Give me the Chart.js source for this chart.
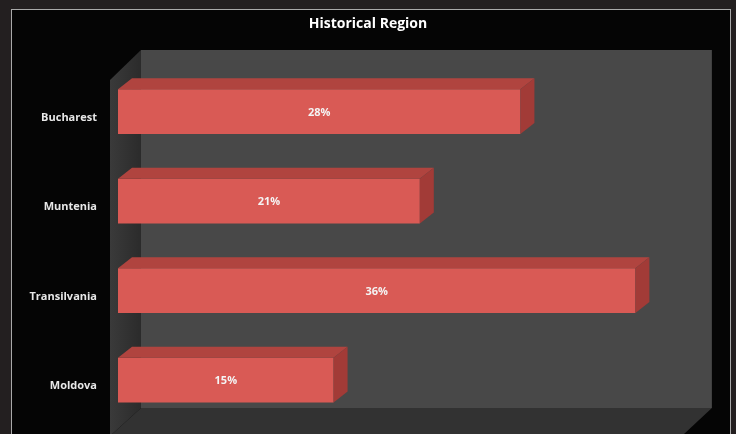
<!DOCTYPE html>
<html>
<head>
<meta charset="utf-8">
<script src="https://cdn.jsdelivr.net/npm/chart.js@4"></script>
<style>
  html, body { margin: 0; padding: 0; background: #231f20; }
  #wrap { width: 736px; height: 434px; position: relative; }
</style>
</head>
<body>
<div id="wrap"><canvas id="regionChart" width="736" height="434"></canvas></div>
<script>
// chart data
const regions = ['Bucharest', 'Muntenia', 'Transilvania', 'Moldova'];
const shares = [28, 21, 36, 15];
const chartTitle = 'Historical Region';

const barFront = '#d95a55';
const barTop = '#b0443f';
const barSide = '#a23b37';

// frame, 3D walls and floor behind the bars
const backdrop = {
    id: 'backdrop',
    beforeDraw(chart) {
        const ctx = chart.ctx;
        const a = chart.chartArea;
        const x = chart.scales.x;
        ctx.save();
        // outer frame
        ctx.fillStyle = '#231f20';
        ctx.fillRect(0, 0, 736, 434);
        ctx.fillStyle = '#050505';
        ctx.fillRect(11, 9, 720, 430);
        ctx.strokeStyle = '#a9a9a9';
        ctx.lineWidth = 1;
        ctx.strokeRect(11.5, 9.5, 719, 440);

        const frontL = a.left - 8, backL = a.left + 23;
        const backR = x.getPixelForValue(40) + 19;
        const wallTop = 50, backBottom = 408, frontBottom = 436;

        // back wall
        ctx.fillStyle = '#484848';
        ctx.fillRect(backL, wallTop, backR - backL, backBottom - wallTop);

        // left side wall
        const g = ctx.createLinearGradient(frontL, 0, backL, 0);
        g.addColorStop(0, '#3a3a3a');
        g.addColorStop(1, '#2b2b2b');
        ctx.fillStyle = g;
        ctx.beginPath();
        ctx.moveTo(frontL, wallTop + 30);
        ctx.lineTo(backL, wallTop);
        ctx.lineTo(backL, backBottom);
        ctx.lineTo(frontL, frontBottom);
        ctx.closePath();
        ctx.fill();

        // floor
        ctx.fillStyle = '#323232';
        ctx.beginPath();
        ctx.moveTo(backL, backBottom);
        ctx.lineTo(backR, backBottom);
        ctx.lineTo(backR - 30, frontBottom);
        ctx.lineTo(frontL, frontBottom);
        ctx.closePath();
        ctx.fill();
        ctx.restore();
    }
};

// top and side faces of each bar, plus value labels
const bars3d = {
    id: 'bars3d',
    afterDatasetsDraw(chart) {
        const ctx = chart.ctx;
        const dx = 14, dy = 11;
        ctx.save();
        chart.getDatasetMeta(0).data.forEach((bar, i) => {
            const top = bar.y - bar.height / 2;
            const bottom = bar.y + bar.height / 2;
            ctx.fillStyle = barTop;
            ctx.beginPath();
            ctx.moveTo(bar.base, top);
            ctx.lineTo(bar.base + dx, top - dy);
            ctx.lineTo(bar.x + dx, top - dy);
            ctx.lineTo(bar.x, top);
            ctx.closePath();
            ctx.fill();
            ctx.fillStyle = barSide;
            ctx.beginPath();
            ctx.moveTo(bar.x, top);
            ctx.lineTo(bar.x + dx, top - dy);
            ctx.lineTo(bar.x + dx, bottom - dy);
            ctx.lineTo(bar.x, bottom);
            ctx.closePath();
            ctx.fill();

            ctx.fillStyle = '#f4f4f4';
            ctx.font = 'bold 11px "Open Sans"';
            ctx.textAlign = 'center';
            ctx.textBaseline = 'middle';
            ctx.fillText(shares[i] + '%', (bar.base + bar.x) / 2, bar.y + 1);
        });
        ctx.restore();
    }
};

const ctx = document.getElementById('regionChart').getContext('2d');
new Chart(ctx, {
    type: 'bar',
    data: {
        labels: regions,
        datasets: [{
            data: shares,
            backgroundColor: barFront,
            borderWidth: 0,
            categoryPercentage: 1,
            barPercentage: 0.5,
        }],
    },
    options: {
        indexAxis: 'y',
        responsive: false,
        animation: false,
        layout: { padding: { left: 0, right: 0, top: 0, bottom: 9 } },
        plugins: {
            legend: { display: false },
            tooltip: { enabled: false },
            title: {
                display: true,
                text: chartTitle,
                color: '#ffffff',
                font: { family: 'Open Sans', size: 14, weight: 'bold' },
                padding: { top: 16, bottom: 34 },
            },
        },
        scales: {
            x: {
                display: false,
                min: 0,
                max: 43,
            },
            y: {
                grid: { display: false, drawTicks: false },
                border: { display: false },
                afterFit(scale) {
                    scale.width = 118;
                    scale.paddingTop = 0;
                    scale.paddingBottom = 0;
                },
                ticks: {
                    color: '#e8e8e8',
                    font: { family: 'Open Sans', size: 11, weight: 'bold' },
                    padding: 21,
                    labelOffset: 6,
                },
            },
        },
    },
    plugins: [backdrop, bars3d],
});
</script>
</body>
</html>
